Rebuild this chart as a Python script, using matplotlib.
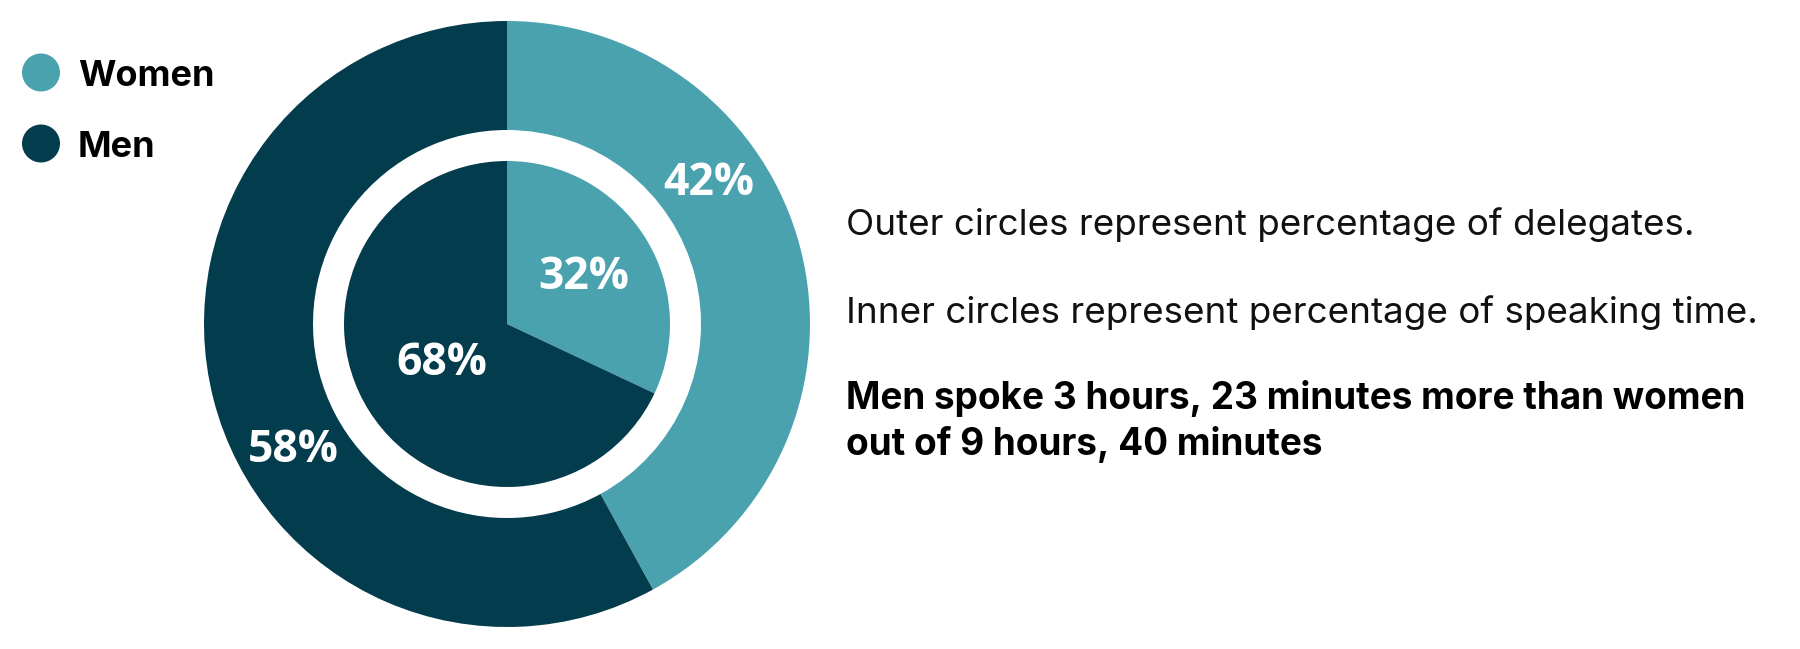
import matplotlib.pyplot as plt
import matplotlib.patches as mpatches
import numpy as np

# data
groups = ['Women', 'Men']
delegates = [42, 58]      # outer ring
speaking = [32, 68]       # inner pie
colors = ['#49A2AE', '#033C4D']

notes = ['Outer circles represent percentage of delegates.',
         'Inner circles represent percentage of speaking time.']
summary = ['Men spoke 3 hours, 23 minutes more than women',
           'out of 9 hours, 40 minutes']

W, H = 1800, 649
fig = plt.figure(figsize=(W / 100, H / 100), dpi=100)
ax = fig.add_axes([0, 0, 1, 1])

cx, cy = 507, H - 324
r_out, r_gap, r_in = 303, 194, 163

ax.pie(delegates, colors=colors, radius=r_out, center=(cx, cy), startangle=90,
       counterclock=False, wedgeprops=dict(width=r_out - r_gap, linewidth=0))
ax.pie(speaking, colors=colors, radius=r_in, center=(cx, cy), startangle=90,
       counterclock=False, wedgeprops=dict(linewidth=0))

pct_font = dict(family='Open Sans', weight='bold', size=32, color='white',
                ha='center', va='baseline')


def put_label(val, r, ang):
    a = np.deg2rad(ang)
    # baseline sits half a cap height below the visual centre
    ax.text(cx + r * np.cos(a), cy + r * np.sin(a) - 16, f'{val}%', **pct_font)


# labels sit off-centre in the reference
put_label(delegates[0], 248, 35.7)
put_label(delegates[1], 246, 209.7)
put_label(speaking[0], 92, 34)
put_label(speaking[1], 74, 208)

# legend
for i, (g, c) in enumerate(zip(groups, colors)):
    y = H - (72.5 + 71 * i)
    ax.add_patch(mpatches.Circle((41, y), 19, color=c, lw=0))
    ax.text(78, H - (86 + 71 * i), g, family='Inter', weight='bold', size=26,
            ha='left', va='baseline', color='black')

# side notes
for i, t in enumerate(notes):
    ax.text(846, H - (235 + 88 * i), t, family='Inter', size=26.5, ha='left',
            va='baseline', color='#111111')
for i, t in enumerate(summary):
    ax.text(846, H - (409 + 46 * i), t, family='Inter', weight='bold',
            size=26.6, ha='left', va='baseline', color='black')

ax.set_xlim(0, W)
ax.set_ylim(0, H)
ax.set_aspect('equal')
ax.axis('off')

fig.savefig('out.png', dpi=100, facecolor='white')
